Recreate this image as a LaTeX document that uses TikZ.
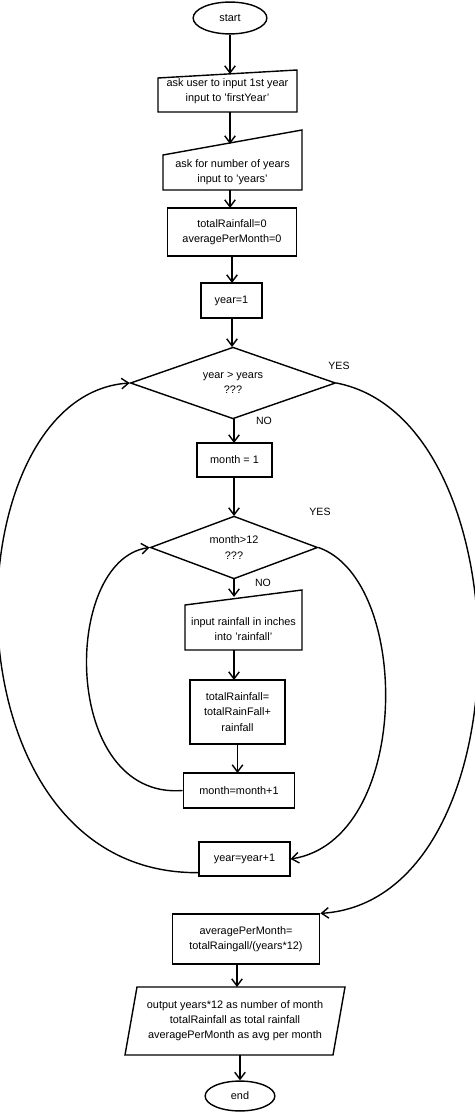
\documentclass[tikz,border=0pt]{standalone}
\usepackage{fontspec}
\setmainfont{Liberation Sans}
\usetikzlibrary{shapes.geometric,arrows.meta}
\begin{document}
\begin{tikzpicture}[x=0.02cm,y=-0.02cm,
  every node/.style={font=\fontsize{6.2}{8.6}\selectfont,align=center},
  box/.style={draw,thick,rectangle,inner sep=0pt},
  plain/.style={inner sep=0pt},
  arr/.style={thick,-{Straight Barb[length=4pt,width=6pt]}},
  lbl/.style={font=\fontsize{6}{7}\selectfont}]
\useasboundingbox (0,0) rectangle (474,1114);
% start/end
\node[draw,thick,ellipse,minimum width=74*0.567pt,minimum height=32*0.567pt] (start) at (230,18) {start};
\node[draw,thick,ellipse,minimum width=70*0.567pt,minimum height=30*0.567pt] (end) at (240,1096) {end};
% manual input 1
\node[plain,minimum width=139*0.567pt,minimum height=42*0.567pt] (in1) at (227.5,91) {ask user to input 1st year\\input to 'firstYear'};
\draw[thick] (158,78) -- (297,70) -- (297,112) -- (158,112) -- cycle;
\node[plain,minimum width=139*0.567pt,minimum height=60*0.567pt] (in2) at (232.5,160) {};
\node at (232.5,172) {ask for number of years\\input to 'years'};
\draw[thick] (163,155) -- (302,130) -- (302,190) -- (163,190) -- cycle;
\node[box,minimum width=130*0.567pt,minimum height=48*0.567pt] (init) at (232,232) {totalRainfall=0\\averagePerMonth=0};
\node[box,minimum width=61*0.567pt,minimum height=35*0.567pt] (y1) at (231.5,300.5) {year=1};
\node[draw,thick,diamond,aspect=2.86,inner sep=0pt,minimum width=206*0.567pt,minimum height=72*0.567pt] (d1) at (233,383) {year > years\\???};
\node[box,minimum width=75*0.567pt,minimum height=34*0.567pt] (m1) at (234.5,460) {month = 1};
\node[draw,thick,diamond,aspect=2.67,inner sep=0pt,minimum width=168*0.567pt,minimum height=63*0.567pt] (d2) at (234,547.5) {month>12\\???};
\node[plain,minimum width=117*0.567pt,minimum height=60*0.567pt] (in3) at (243.5,620) {};
\node at (243.5,629) {input rainfall in inches\\into 'rainfall'};
\draw[thick] (185,605) -- (302,590) -- (302,650) -- (185,650) -- cycle;
\node[box,minimum width=95*0.567pt,minimum height=64*0.567pt] (tot) at (237.5,712) {totalRainfall=\\totalRainFall+\\rainfall};
\node[box,minimum width=112*0.567pt,minimum height=35*0.567pt] (mp) at (239,790.5) {month=month+1};
\node[box,minimum width=91*0.567pt,minimum height=34*0.567pt] (yp) at (244.5,859) {year=year+1};
\node[box,minimum width=148*0.567pt,minimum height=50*0.567pt] (avg) at (246,939) {averagePerMonth=\\totalRaingall/(years*12)};
\node[plain,minimum width=200*0.567pt,minimum height=68*0.567pt] (out) at (235,1021) {output years*12 as number of month\\totalRainfall as total rainfall\\averagePerMonth as avg per month};
\draw[thick] (137,987) -- (345,987) -- (333,1055) -- (125,1055) -- cycle;
% straight arrows
\draw[arr] (start.south) -- (230,74);
\draw[arr] (230,112) -- (230,144);
\draw[arr] (230,190) -- (230,208);
\draw[arr] (232,256) -- (232,283);
\draw[arr] (232,318) -- (232,347);
\draw[arr] (234,419) -- (234,443);
\draw[arr] (234,477) -- (234,516);
\draw[arr] (234,579) -- (234,597);
\draw[arr] (234,650) -- (234,680);
\draw[arr] (237.5,744) -- (237.5,773);
\draw[arr] (237,964) -- (237,987);
\draw[arr] (240,1055) -- (end.north);
% loops
\draw[arr] (yp.south west) ++(0,-4) .. controls (-62,875) and (-52,395) .. (d1.west);
\draw[arr] (d1.east) .. controls (528,420) and (528,900) .. (avg.north east);
\draw[arr] (mp.west) .. controls (61,800) and (61,560) .. (d2.west);
\draw[arr] (d2.east) .. controls (412,580) and (412,840) .. (yp.east);
\node[lbl] at (339,366) {YES};
\node[lbl] at (264,421) {NO};
\node[lbl] at (320,512) {YES};
\node[lbl] at (263,583) {NO};
\end{tikzpicture}
\end{document}
